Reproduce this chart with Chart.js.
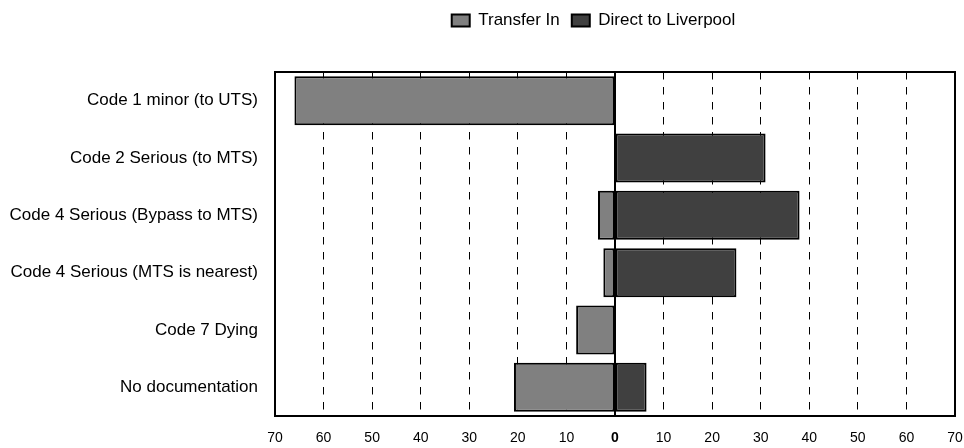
<!DOCTYPE html>
<html>
<head>
<meta charset="utf-8">
<script src="https://cdn.jsdelivr.net/npm/chart.js@4.4.0/dist/chart.umd.min.js"></script>
<style>
html,body{margin:0;padding:0;background:#fff;}
#wrap{width:964px;height:448px;}
</style>
</head>
<body>
<div id="wrap"><canvas id="c" width="964" height="448"></canvas></div>
<script>
const categories = [
  "Code 1 minor (to UTS)",
  "Code 2 Serious (to MTS)",
  "Code 4 Serious (Bypass to MTS)",
  "Code 4 Serious (MTS is nearest)",
  "Code 7 Dying",
  "No documentation"
];
const transferIn = [-66, 0, -3.5, -2.4, -8, -20.8];
const directToLiverpool = [0, 31, 38, 25, 0, 6.5];
const xTicks = [-70, -60, -50, -40, -30, -20, -10, 0, 10, 20, 30, 40, 50, 60, 70];

const FONT = "'Liberation Sans', Arial, sans-serif";

const frame = {
  id: 'frame',
  afterDraw(chart) {
    const a = chart.chartArea, ctx = chart.ctx;
    ctx.save();
    ctx.strokeStyle = '#000';
    ctx.lineWidth = 2;
    ctx.strokeRect(a.left, a.top, a.right - a.left, a.bottom - a.top);
    const x0 = chart.scales.x.getPixelForValue(0);
    ctx.beginPath();
    ctx.moveTo(x0, a.top);
    ctx.lineTo(x0, a.bottom);
    ctx.stroke();
    ctx.restore();
  }
};
const legendShift = {
  id: 'legendShift',
  beforeInit(chart) {
    const lg = chart.legend;
    const orig = lg.fit;
    lg.fit = function () { orig.call(this); this.height = 72; };
  },
  afterLayout(chart) {
    const lg = chart.legend;
    lg.left += 116; lg.right += 116;
  }
};

new Chart(document.getElementById('c'), {
  type: 'bar',
  data: {
    labels: categories,
    datasets: [
      { label: 'Transfer In', data: transferIn, backgroundColor: '#808080', borderColor: '#000', borderWidth: 2, borderSkipped: false },
      { label: 'Direct to Liverpool', data: directToLiverpool, backgroundColor: '#404040', borderColor: '#000', borderWidth: 2, borderSkipped: false }
    ]
  },
  options: {
    indexAxis: 'y',
    responsive: false,
    animation: false,
    devicePixelRatio: 1,
    layout: { padding: { left: 0, right: 9, top: 0, bottom: 0 } },
    datasets: { bar: { categoryPercentage: 1, barPercentage: 0.855 } },
    plugins: {
      tooltip: { enabled: false },
      legend: {
        position: 'top',
        labels: {
          boxWidth: 18, boxHeight: 12, padding: 12,
          color: '#000',
          font: { family: FONT, size: 17 }
        }
      }
    },
    scales: {
      x: {
        stacked: true,
        min: -70, max: 70,
        afterBuildTicks(scale) { scale.ticks = xTicks.map(v => ({ value: v })); },
        afterFit(scale) { scale.height = 32; scale.paddingLeft = 0; scale.paddingRight = 0; },
        grid: {
          color: '#000',
          lineWidth: 1,
          drawTicks: false
        },
        border: { display: false, dash: [7.5, 7.5] },
        ticks: {
          padding: 14,
          color: '#000',
          font: (c) => ({ family: FONT, size: 14, weight: c.tick && c.tick.value === 0 ? 'bold' : 'normal' }),
          callback: (v) => String(Math.abs(v))
        }
      },
      y: {
        stacked: true,
        afterFit(scale) { scale.width = 275; },
        grid: { display: false, drawTicks: false },
        border: { display: false },
        ticks: {
          padding: 17,
          color: '#000',
          font: { family: FONT, size: 17 }
        }
      }
    }
  },
  plugins: [frame, legendShift]
});
</script>
</body>
</html>
